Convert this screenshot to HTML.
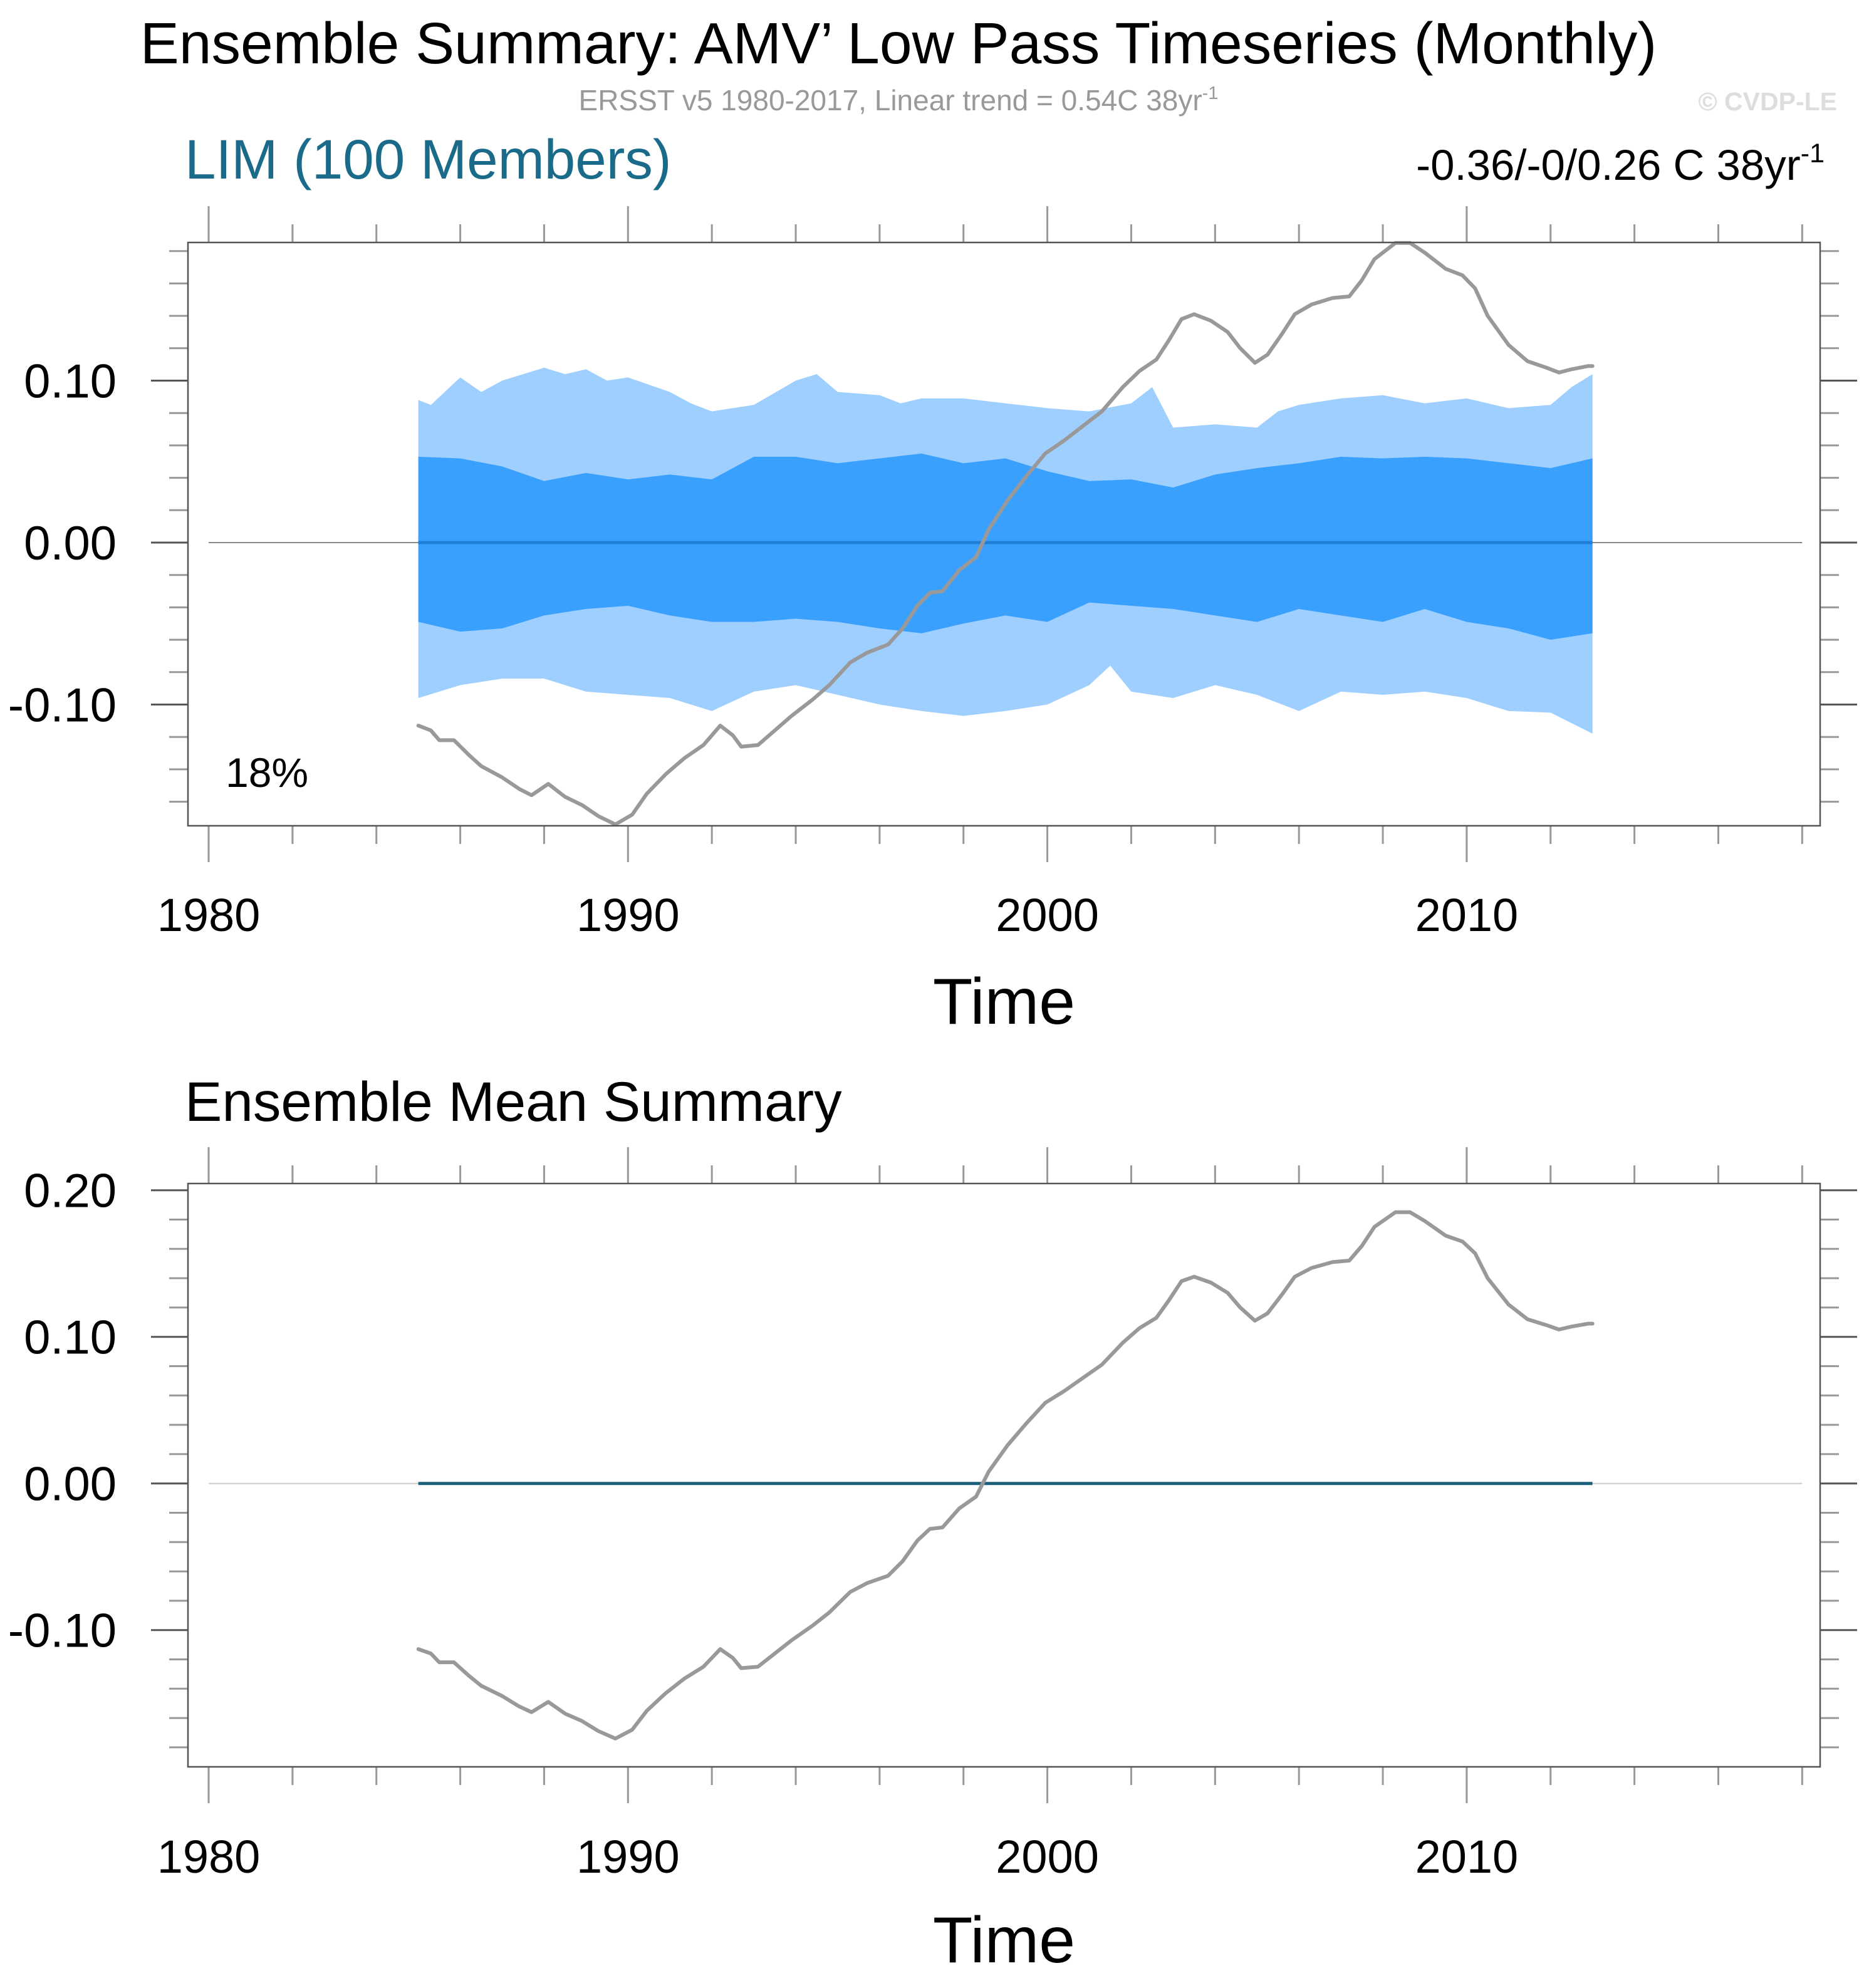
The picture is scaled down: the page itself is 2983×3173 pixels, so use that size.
<!DOCTYPE html>
<html><head><meta charset="utf-8">
<style>
html,body{margin:0;padding:0;background:#fff;}
svg{display:block;font-family:"Liberation Sans",Arial,sans-serif;}
</style></head>
<body>
<svg id="chart" width="2983" height="3173" viewBox="0 0 2983 3173" xmlns="http://www.w3.org/2000/svg">
<rect width="2983" height="3173" fill="#fff"/>
<text x="1434" y="101" font-size="93" text-anchor="middle" fill="#000">Ensemble Summary: AMV’ Low Pass Timeseries (Monthly)</text>
<text x="1434" y="176" font-size="46" text-anchor="middle" fill="#999">ERSST v5 1980-2017, Linear trend = 0.54C 38yr<tspan dy="-18" font-size="29">-1</tspan></text>
<text x="2932" y="176" font-size="41" font-weight="bold" text-anchor="end" fill="#ddd">© CVDP-LE</text>
<text x="295" y="285" font-size="89" fill="#1a6b8a">LIM (100 Members)</text>
<text x="2912" y="287" font-size="69" text-anchor="end" fill="#000">-0.36/-0/0.26 C 38yr<tspan dy="-28" font-size="43">-1</tspan></text>
<text x="360" y="1256" font-size="66" fill="#000">18%</text>
<text x="295" y="1789" font-size="89" fill="#000">Ensemble Mean Summary</text>
<g id="p1"></g>
<g id="p2"></g>
</svg>
<script>
// ---- data ----
const obsYears = [1985.0,1985.3,1985.5,1985.85,1986.2,1986.5,1987.0,1987.4,1987.7,1988.1,1988.5,1988.9,1989.3,1989.7,1990.1,1990.45,1990.9,1991.35,1991.8,1992.2,1992.5,1992.7,1993.1,1993.5,1993.9,1994.4,1994.8,1995.3,1995.7,1996.2,1996.55,1996.9,1997.2,1997.5,1997.9,1998.3,1998.6,1999.05,1999.5,1999.95,2000.4,2000.85,2001.3,2001.8,2002.2,2002.6,2002.9,2003.2,2003.5,2003.9,2004.3,2004.6,2004.95,2005.25,2005.6,2005.9,2006.3,2006.8,2007.2,2007.5,2007.8,2008.3,2008.65,2009.0,2009.5,2009.9,2010.2,2010.5,2011.0,2011.45,2011.9,2012.2,2012.5,2012.9,2013.0];
const obsValues = [-0.113,-0.116,-0.122,-0.122,-0.131,-0.138,-0.145,-0.152,-0.156,-0.149,-0.157,-0.162,-0.169,-0.174,-0.168,-0.155,-0.143,-0.133,-0.125,-0.113,-0.119,-0.126,-0.125,-0.116,-0.107,-0.097,-0.088,-0.074,-0.068,-0.063,-0.053,-0.039,-0.031,-0.030,-0.017,-0.009,0.008,0.026,0.041,0.055,0.063,0.072,0.081,0.096,0.106,0.113,0.125,0.138,0.141,0.137,0.130,0.120,0.111,0.116,0.129,0.141,0.147,0.151,0.152,0.162,0.175,0.185,0.185,0.179,0.169,0.165,0.157,0.140,0.122,0.112,0.108,0.105,0.107,0.109,0.109];
const outerUpYears = [1985,1985.3,1986,1986.5,1987,1988,1988.5,1989,1989.5,1990,1991,1991.5,1992,1993,1994,1994.5,1995,1996,1996.5,1997,1998,1999,2000,2001,2002,2002.5,2003,2004,2005,2005.5,2006,2007,2008,2009,2010,2011,2012,2012.5,2013];
const outerUp = [0.088,0.085,0.102,0.093,0.100,0.108,0.104,0.107,0.100,0.102,0.093,0.086,0.081,0.085,0.100,0.104,0.093,0.091,0.086,0.089,0.089,0.086,0.083,0.081,0.086,0.096,0.071,0.073,0.071,0.081,0.085,0.089,0.091,0.086,0.089,0.083,0.085,0.096,0.104];
const annualYears = [1985,1986,1987,1988,1989,1990,1991,1992,1993,1994,1995,1996,1997,1998,1999,2000,2001,2002,2003,2004,2005,2006,2007,2008,2009,2010,2011,2012,2013];
const innerUp = [0.053,0.052,0.047,0.038,0.043,0.039,0.042,0.039,0.053,0.053,0.049,0.052,0.055,0.049,0.052,0.044,0.038,0.039,0.034,0.042,0.046,0.049,0.053,0.052,0.053,0.052,0.049,0.046,0.052];
const innerLo = [-0.049,-0.055,-0.053,-0.045,-0.041,-0.039,-0.045,-0.049,-0.049,-0.047,-0.049,-0.053,-0.056,-0.050,-0.045,-0.049,-0.037,-0.039,-0.041,-0.045,-0.049,-0.041,-0.045,-0.049,-0.041,-0.049,-0.053,-0.060,-0.056];
const outerLoYears = [1985,1986,1987,1988,1989,1990,1991,1992,1993,1994,1995,1996,1997,1998,1999,2000,2001,2001.5,2002,2003,2004,2005,2006,2007,2008,2009,2010,2011,2012,2013];
const outerLo = [-0.096,-0.088,-0.084,-0.084,-0.092,-0.094,-0.096,-0.104,-0.092,-0.088,-0.094,-0.100,-0.104,-0.107,-0.104,-0.100,-0.088,-0.076,-0.092,-0.096,-0.088,-0.094,-0.104,-0.092,-0.094,-0.092,-0.096,-0.104,-0.105,-0.118];
const ensMeanYears = [1985,2013];
const ensMean = [0,0];
const xTickLabels = ["1980","1990","2000","2010"];
const y1TickLabels = ["0.10","0.00","-0.10"];
const y1TickValues = [0.1,0,-0.1];
const y2TickLabels = ["0.20","0.10","0.00","-0.10"];
const y2TickValues = [0.2,0.1,0,-0.1];

const NS="http://www.w3.org/2000/svg";
function mk(parent,tag,attrs){const e=document.createElementNS(NS,tag);for(const k in attrs)e.setAttribute(k,attrs[k]);parent.appendChild(e);return e;}
const L=300,R=2905;
function xs(yr){return 333+(yr-1980)*66.93;}

function panel(g,top,bot,y0,pxPer,yMinor,yVals,yLabs,labBase,timeBase,bands,meanColor){
  const ys=v=>y0-v*pxPer;
  for(let yr=1980;yr<=2018;yr+=2){
    const major=(yr%10===0);
    const x=xs(yr);
    let t=mk(g,'line',{x1:x,x2:x,y1:top,y2:top-(major?58:29),stroke:'#999','stroke-width':3});
    
    
    t=mk(g,'line',{x1:x,x2:x,y1:bot,y2:bot+(major?58:29),stroke:'#999','stroke-width':3});
    
    
  }
  xTickLabels.forEach((lab,i)=>{
    const t=mk(g,'text',{x:xs(1980+i*10),y:labBase,'font-size':74,'text-anchor':'middle',fill:'#000'});
    t.textContent=lab;
    
    
  });
  for(const v of yMinor){
    const y=ys(v);
    if(y<top-1||y>bot+1)continue;
    const major=yVals.some(m=>Math.abs(m-v)<1e-6);
    let t=mk(g,'line',{x1:L,x2:L-(major?59:30),y1:y,y2:y,stroke:major?'#555':'#999','stroke-width':3});
    
    
    t=mk(g,'line',{x1:R,x2:R+(major?59:30),y1:y,y2:y,stroke:major?'#555':'#999','stroke-width':3});
    
    
  }
  yVals.forEach((v,i)=>{
    const t=mk(g,'text',{x:186,y:ys(v)+27,'font-size':76,'text-anchor':'end',fill:'#000'});
    t.textContent=yLabs[i];
    
    
  });
  if(bands){
    const poly=(yu,vu,yl,vl,col,name)=>{
      let pts=yu.map((y,i)=>xs(y)+','+ys(vu[i]));
      for(let i=yl.length-1;i>=0;i--)pts.push(xs(yl[i])+','+ys(vl[i]));
      const p=mk(g,'polygon',{points:pts.join(' '),fill:col});
      
      
    };
    poly(outerUpYears,outerUp,outerLoYears,outerLo,'#9fcffe','outer-spread-band');
    poly(annualYears,innerUp,annualYears,innerLo,'#3aa0fe','inner-spread-band');
  }
  let z=mk(g,'line',{x1:xs(1980),x2:xs(2018),y1:ys(0),y2:ys(0),stroke:bands?'#888':'#ccc','stroke-width':2});
  
  
  const m=mk(g,'polyline',{points:ensMeanYears.map((y,i)=>xs(y)+','+ys(ensMean[i])).join(' '),fill:'none',stroke:meanColor,'stroke-width':5});
  
  
  const o=mk(g,'polyline',{points:obsYears.map((y,i)=>xs(y)+','+ys(obsValues[i])).join(' '),fill:'none',stroke:'#999','stroke-width':6,'stroke-linejoin':'round','stroke-linecap':'round'});
  
  
  const f=mk(g,'rect',{x:L,y:top,width:R-L,height:bot-top,fill:'none',stroke:'#555','stroke-width':2.5});
  
  
  const tt=mk(g,'text',{x:(L+R)/2,y:timeBase,'font-size':104,'text-anchor':'middle',fill:'#000'});
  tt.textContent='Time';
  
  
}
const minor1=[];for(let v=-0.18;v<=0.19;v+=0.02)minor1.push(Math.round(v*100)/100);
const minor2=[];for(let v=-0.18;v<=0.21;v+=0.02)minor2.push(Math.round(v*100)/100);
panel(document.getElementById('p1'),387,1318,866,2585,minor1,y1TickValues,y1TickLabels,1486,1634,true,'#1f7fd8');
panel(document.getElementById('p2'),1889,2820,2367.7,2340,minor2,y2TickValues,y2TickLabels,2989,3132,false,'#1b5f7a');
</script>
</body></html>
